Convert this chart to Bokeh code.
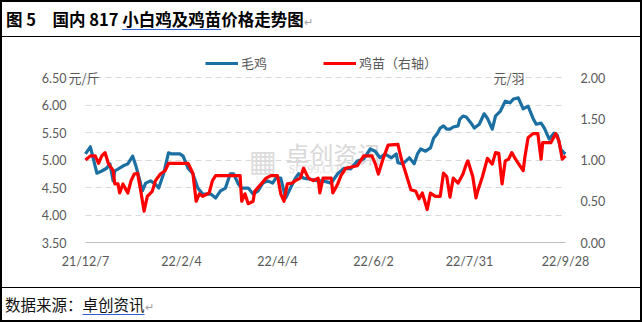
import pandas as pd
from bokeh.plotting import figure
from bokeh.models import (Range1d, LinearAxis, FixedTicker, NumeralTickFormatter,
                          CustomJSTickFormatter, Legend, LegendItem, Label, Div,
                          ColumnDataSource)
from bokeh.layouts import column
from bokeh.embed import file_html
from bokeh.resources import INLINE

# ---------------- data ----------------
broiler_dates = [
    "2021-12-07", "2021-12-10", "2021-12-14", "2021-12-17", "2021-12-20", "2021-12-22",
    "2021-12-24", "2021-12-25", "2021-12-30", "2022-01-02", "2022-01-05", "2022-01-07",
    "2022-01-09", "2022-01-11", "2022-01-13", "2022-01-16", "2022-01-19", "2022-01-21",
    "2022-01-24", "2022-01-27", "2022-01-29", "2022-02-03", "2022-02-05", "2022-02-08",
    "2022-02-11", "2022-02-14", "2022-02-17", "2022-02-22", "2022-02-25", "2022-02-28",
    "2022-03-03", "2022-03-06", "2022-03-08", "2022-03-11", "2022-03-13", "2022-03-17",
    "2022-03-20", "2022-03-23", "2022-03-26", "2022-03-29", "2022-04-01", "2022-04-03",
    "2022-04-06", "2022-04-09", "2022-04-12", "2022-04-15", "2022-04-17", "2022-04-20",
    "2022-04-24", "2022-04-29", "2022-05-02", "2022-05-07", "2022-05-11", "2022-05-15",
    "2022-05-19", "2022-05-23", "2022-05-27", "2022-05-31", "2022-06-03", "2022-06-06",
    "2022-06-09", "2022-06-13", "2022-06-16", "2022-06-17", "2022-06-20", "2022-06-24",
    "2022-06-27", "2022-06-29", "2022-07-01", "2022-07-04", "2022-07-07", "2022-07-09",
    "2022-07-11", "2022-07-13", "2022-07-15", "2022-07-17", "2022-07-19", "2022-07-21",
    "2022-07-24", "2022-07-25", "2022-07-27", "2022-07-29", "2022-08-01", "2022-08-03",
    "2022-08-06", "2022-08-09", "2022-08-11", "2022-08-14", "2022-08-16", "2022-08-19",
    "2022-08-22", "2022-08-25", "2022-08-27", "2022-08-30", "2022-09-02", "2022-09-05",
    "2022-09-08", "2022-09-10", "2022-09-13", "2022-09-15", "2022-09-18", "2022-09-21",
    "2022-09-23", "2022-09-25", "2022-09-27", "2022-09-28",
]
broiler_price = [
    5.11, 5.24, 4.76, 4.80, 4.85, 4.93,
    4.62, 4.80, 4.89, 4.93, 5.07, 4.89,
    4.67, 4.44, 4.58, 4.62, 4.56, 4.49,
    4.75, 5.13, 5.11, 5.11, 5.07, 4.85,
    4.75, 4.49, 4.38, 4.38, 4.31, 4.44,
    4.49, 4.75, 4.75, 4.56, 4.49, 4.49,
    4.38, 4.44, 4.58, 4.62, 4.58, 4.67,
    4.67, 4.31, 4.49, 4.67, 4.75, 4.67,
    4.65, 4.62, 4.62, 4.58, 4.75, 4.85,
    4.84, 4.98, 5.02, 5.20, 5.16, 5.04,
    5.11, 5.04, 5.11, 4.95, 4.93, 5.04,
    4.93, 5.11, 5.20, 5.16, 5.22, 5.40,
    5.47, 5.58, 5.62, 5.56, 5.56, 5.60,
    5.62, 5.74, 5.80, 5.78, 5.67, 5.58,
    5.65, 5.84, 5.76, 5.56, 5.80, 5.89,
    6.07, 6.04, 6.11, 6.13, 5.93, 5.98,
    5.76, 5.65, 5.67, 5.58, 5.38, 5.49,
    5.45, 5.20, 5.13, 5.11,
]

chick_dates = [
    "2021-12-07", "2021-12-10", "2021-12-13", "2021-12-15", "2021-12-17", "2021-12-19",
    "2021-12-21", "2021-12-24", "2021-12-25", "2021-12-27", "2021-12-28", "2021-12-30",
    "2022-01-02", "2022-01-04", "2022-01-06", "2022-01-08", "2022-01-10", "2022-01-12",
    "2022-01-14", "2022-01-17", "2022-01-19", "2022-01-22", "2022-01-25", "2022-01-27",
    "2022-02-08", "2022-02-11", "2022-02-13", "2022-02-15", "2022-02-17", "2022-02-21",
    "2022-02-23", "2022-02-25", "2022-03-12", "2022-03-13", "2022-03-15", "2022-03-17",
    "2022-03-20", "2022-03-21", "2022-03-25", "2022-03-28", "2022-03-31", "2022-04-04",
    "2022-04-06", "2022-04-08", "2022-04-10", "2022-04-13", "2022-04-15", "2022-04-18",
    "2022-04-20", "2022-04-23", "2022-04-26", "2022-04-29", "2022-04-30", "2022-05-02",
    "2022-05-07", "2022-05-08", "2022-05-11", "2022-05-13", "2022-05-16", "2022-05-23",
    "2022-05-27", "2022-06-01", "2022-06-03", "2022-06-05", "2022-06-08", "2022-06-11",
    "2022-06-17", "2022-06-19", "2022-06-22", "2022-06-25", "2022-06-28", "2022-06-30",
    "2022-07-02", "2022-07-05", "2022-07-07", "2022-07-10", "2022-07-13", "2022-07-15",
    "2022-07-17", "2022-07-19", "2022-07-21", "2022-07-24", "2022-07-27", "2022-07-29",
    "2022-07-30", "2022-08-02", "2022-08-04", "2022-08-05", "2022-08-08", "2022-08-11",
    "2022-08-14", "2022-08-16", "2022-08-18", "2022-08-20", "2022-08-22", "2022-08-24",
    "2022-08-26", "2022-08-28", "2022-08-30", "2022-09-02", "2022-09-03", "2022-09-05",
    "2022-09-08", "2022-09-11", "2022-09-13", "2022-09-14", "2022-09-19", "2022-09-22",
    "2022-09-24", "2022-09-26", "2022-09-28",
]
chick_price = [
    1.00, 1.05, 1.05, 0.96, 1.05, 1.09,
    0.96, 0.87, 0.71, 0.71, 0.60, 0.71,
    0.60, 0.75, 0.83, 0.84, 0.62, 0.38,
    0.56, 0.62, 0.75, 0.83, 0.87, 0.96,
    0.96, 0.84, 0.50, 0.59, 0.56, 0.60,
    0.75, 0.81, 0.81, 0.50, 0.59, 0.47,
    0.50, 0.62, 0.71, 0.78, 0.81, 0.81,
    0.59, 0.50, 0.71, 0.72, 0.75, 0.78,
    0.90, 0.78, 0.75, 0.78, 0.60, 0.78,
    0.78, 0.60, 0.71, 0.81, 0.90, 0.93,
    1.05, 1.05, 0.96, 0.83, 1.02, 1.18,
    1.19, 1.02, 0.83, 0.64, 0.62, 0.53,
    0.60, 0.40, 0.60, 0.56, 0.56, 0.84,
    0.80, 0.55, 0.78, 0.72, 0.83, 0.95,
    0.99, 0.80, 0.54, 0.62, 0.80, 1.02,
    0.95, 1.09, 1.08, 0.71, 0.99, 1.01,
    1.09, 1.02, 0.96, 0.87, 1.03, 1.27,
    1.32, 1.32, 1.01, 1.21, 1.21, 1.32,
    1.23, 1.01, 1.05,
]

x_tick_dates = ["2021-12-07", "2022-02-04", "2022-04-04", "2022-06-02", "2022-07-31", "2022-09-28"]
left_ticks = [3.5, 4.0, 4.5, 5.0, 5.5, 6.0, 6.5]
right_ticks = [0.0, 0.5, 1.0, 1.5, 2.0]

series_names = ["毛鸡", "鸡苗（右轴）"]
unit_left = "元/斤"
unit_right = "元/羽"
title_text = "图 5　国内 817 "
title_underlined = "小白鸡及鸡苗"
title_rest = "价格走势图"
source_label = "数据来源："
source_name = "卓创资讯"

# ---------------- styling / geometry ----------------
BLUE = "#1C6FA2"
RED = "#FF0000"
GREY_TXT = "#595959"
NUM_FONT = "Lato"
CJK_FONT = "Noto Sans CJK SC"

FIG_W, FIG_H = 638, 250
MB_LEFT, MB_RIGHT, MB_TOP, MB_BOTTOM = 28, 30, 13, 13
PAD_LEFT_PX = 55      # blank frame space left of the first date (tick labels / unit text)
PAD_RIGHT_PX = 45     # blank frame space right of the last date (right tick labels)
PAD_TOP_PX = 27       # blank frame space above the top tick (legend / units)
PAD_BOTTOM_PX = 32    # blank frame space below the bottom tick (date labels)

frame_w = FIG_W - MB_LEFT - MB_RIGHT
frame_h = FIG_H - MB_TOP - MB_BOTTOM

broiler_src = ColumnDataSource(dict(date=pd.to_datetime(broiler_dates), v=broiler_price))
chick_src = ColumnDataSource(dict(date=pd.to_datetime(chick_dates), v=chick_price))

tick_ms = [float(t) for t in (pd.to_datetime(x_tick_dates).astype("int64") // 10**6)]
x0_ms, x1_ms = tick_ms[0], tick_ms[-1]
ms_per_px = (x1_ms - x0_ms) / (frame_w - PAD_LEFT_PX - PAD_RIGHT_PX)
x_range = Range1d(x0_ms - PAD_LEFT_PX * ms_per_px, x1_ms + PAD_RIGHT_PX * ms_per_px)

plot_h = frame_h - PAD_TOP_PX - PAD_BOTTOM_PX
upp_l = (left_ticks[-1] - left_ticks[0]) / plot_h
upp_r = (right_ticks[-1] - right_ticks[0]) / plot_h
y_range = Range1d(left_ticks[0] - PAD_BOTTOM_PX * upp_l, left_ticks[-1] + PAD_TOP_PX * upp_l)
y_right = Range1d(right_ticks[0] - PAD_BOTTOM_PX * upp_r, right_ticks[-1] + PAD_TOP_PX * upp_r)

p = figure(width=FIG_W, height=FIG_H, x_axis_type="datetime",
           x_range=x_range, y_range=y_range,
           output_backend="svg", toolbar_location=None,
           min_border_left=MB_LEFT, min_border_right=MB_RIGHT,
           min_border_top=MB_TOP, min_border_bottom=MB_BOTTOM)
p.extra_y_ranges = {"right": y_right}
p.outline_line_color = None
p.background_fill_color = "white"
p.border_fill_color = "white"

# grids
p.xgrid.grid_line_color = None
p.ygrid.grid_line_color = "#D9D9D9"
p.ygrid.grid_line_dash = "6 4"
p.ygrid.grid_line_width = 1
p.ygrid.cross_bounds = (x0_ms, x1_ms)

# left axis (drawn at the first date, inside the widened frame)
ya = p.yaxis[0]
ya.ticker = FixedTicker(ticks=left_ticks)
ya.formatter = NumeralTickFormatter(format="0.00")
ya.fixed_location = x0_ms
ya.axis_line_color = None
ya.major_tick_line_color = None
ya.minor_tick_line_color = None
ya.major_label_text_font = NUM_FONT
ya.major_label_text_font_size = "12.5px"
ya.major_label_text_color = GREY_TXT
ya.major_label_standoff = 13

# right axis (drawn at the last date)
ra = LinearAxis(y_range_name="right", ticker=FixedTicker(ticks=right_ticks),
                formatter=NumeralTickFormatter(format="0.00"))
ra.fixed_location = x1_ms
ra.axis_line_color = None
ra.major_tick_line_color = None
ra.minor_tick_line_color = None
ra.major_label_text_font = NUM_FONT
ra.major_label_text_font_size = "12.5px"
ra.major_label_text_color = GREY_TXT
ra.major_label_standoff = 9
p.add_layout(ra, "right")

# x axis (drawn at the bottom tick value, inside the widened frame)
xa = p.xaxis[0]
xa.ticker = FixedTicker(ticks=tick_ms)
xa.bounds = (x0_ms, x1_ms)
xa.fixed_location = left_ticks[0]
xa.formatter = CustomJSTickFormatter(code="""
const d = new Date(tick);
return (d.getUTCFullYear() % 100) + "/" + (d.getUTCMonth() + 1) + "/" + d.getUTCDate();
""")
xa.axis_line_color = "#BFBFBF"
xa.axis_line_width = 1
xa.major_tick_line_color = None
xa.minor_tick_line_color = None
xa.major_label_text_font = NUM_FONT
xa.major_label_text_font_size = "12.5px"
xa.major_label_text_color = GREY_TXT
xa.major_label_standoff = 5

# watermark
wm1 = Label(x=x0_ms, y=5.11, x_offset=200, text="卓创资讯", text_font=CJK_FONT,
            text_font_size="24px", text_color="#D9D9D9", text_baseline="middle", level="underlay")
wm2 = Label(x=x0_ms, y=4.84, x_offset=203, text="SCI99.COM", text_font="Liberation Serif",
            text_font_size="12px", text_color="#DDDDDD", text_baseline="middle", level="underlay")
wm3 = Label(x=x0_ms, y=5.0, x_offset=163, text="▦", text_font="DejaVu Sans",
            text_font_size="30px", text_color="#DCDCDC", text_baseline="middle", level="underlay")
for w in (wm3, wm1, wm2):
    p.add_layout(w)

# lines
r1 = p.line(x="date", y="v", source=broiler_src, line_color=BLUE, line_width=3.2, line_join="round")
r2 = p.line(x="date", y="v", source=chick_src, line_color=RED, line_width=3.2, line_join="round",
            y_range_name="right")

legend = Legend(items=[LegendItem(label=series_names[0], renderers=[r1]),
                       LegendItem(label=series_names[1], renderers=[r2])],
                location=(PAD_LEFT_PX + 120, frame_h - 22), orientation="horizontal",
                label_text_font=CJK_FONT, label_text_font_size="13px", label_text_color=GREY_TXT,
                glyph_width=33, glyph_height=18, label_height=18, label_standoff=3,
                spacing=56, padding=0, margin=0, border_line_color=None,
                background_fill_alpha=0)
p.add_layout(legend)

# units
p.add_layout(Label(x=x0_ms, y=left_ticks[-1], x_offset=-17, text=unit_left, text_font=CJK_FONT,
                   text_font_size="13px", text_color=GREY_TXT, text_baseline="middle"))
p.add_layout(Label(x=x1_ms, y=right_ticks[-1], x_offset=-72, y_range_name="right",
                   text=unit_right, text_font=CJK_FONT, text_font_size="13px", text_color=GREY_TXT,
                   text_baseline="middle"))

# ---------------- table frame ----------------
title_html = (
    f'<div style="height:34px;line-height:34px;padding-left:4px;white-space:pre;'
    f'font-family:\'{CJK_FONT}\';font-size:16.5px;font-weight:bold;color:#000;">'
    f'{title_text}<span style="text-decoration:underline;text-decoration-color:#2F5FD0;'
    f'text-underline-offset:3px;">{title_underlined}</span>{title_rest}'
    f'<span style="color:#A0A0A0;font-weight:normal;font-size:11px;">↵</span></div>'
)
title_div = Div(text=title_html, width=FIG_W, height=35, margin=0,
                styles={"border-bottom": "1px solid #000", "box-sizing": "border-box",
                        "background": "white"})

src_html = (
    f'<div style="height:32px;line-height:32px;padding-left:3px;white-space:pre;'
    f'font-family:\'{CJK_FONT}\';font-size:15.5px;color:#111;">'
    f'{source_label}<span style="text-decoration:underline;text-decoration-color:#2F5FD0;'
    f'text-underline-offset:3px;">{source_name}</span>'
    f'<span style="color:#A0A0A0;font-size:11px;">↵</span></div>'
)
src_div = Div(text=src_html, width=FIG_W, height=33, margin=0,
              styles={"border-top": "1px solid #000", "box-sizing": "border-box",
                      "background": "white"})

layout = column(title_div, p, src_div, spacing=0,
                styles={"border": "2px solid #000", "background": "white"})

with open("out.html", "w") as f:
    f.write(file_html(layout, INLINE))
